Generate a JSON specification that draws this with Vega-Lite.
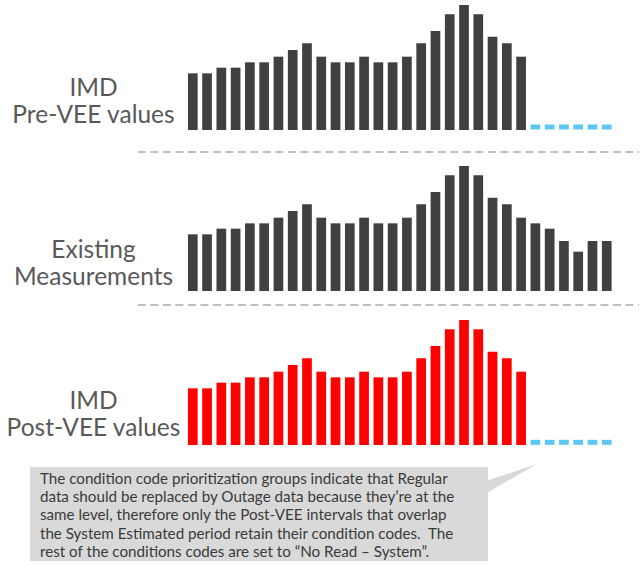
{
  "$schema": "https://vega.github.io/schema/vega-lite/v6.json",
  "padding": {"left": 0, "top": 5, "right": 0, "bottom": 0},
  "autosize": {"type": "pad"},
  "background": "white",
  "bounds": "flush",
  "spacing": 0,
  "config": {
    "view": {"stroke": null},
    "axisY": {
      "labels": false, "ticks": false, "domain": false, "grid": false,
      "titleAngle": 0, "titleAlign": "center", "titleBaseline": "alphabetic",
      "titleFont": "Lato", "titleFontSize": 24.5, "titleFontWeight": "normal",
      "titleColor": "#595959", "titleLineHeight": 27.5, "titleX": 93
    }
  },
  "datasets": {
    "pre": [
      {"slot": 1, "kwh": 17}, {"slot": 2, "kwh": 17}, {"slot": 3, "kwh": 18.7}, {"slot": 4, "kwh": 18.7},
      {"slot": 5, "kwh": 20.3}, {"slot": 6, "kwh": 20.3}, {"slot": 7, "kwh": 22}, {"slot": 8, "kwh": 24},
      {"slot": 9, "kwh": 26}, {"slot": 10, "kwh": 22}, {"slot": 11, "kwh": 20.3}, {"slot": 12, "kwh": 20.3},
      {"slot": 13, "kwh": 22}, {"slot": 14, "kwh": 20.3}, {"slot": 15, "kwh": 20.3}, {"slot": 16, "kwh": 22},
      {"slot": 17, "kwh": 26}, {"slot": 18, "kwh": 29.7}, {"slot": 19, "kwh": 34.7}, {"slot": 20, "kwh": 37.5},
      {"slot": 21, "kwh": 34.7}, {"slot": 22, "kwh": 28}, {"slot": 23, "kwh": 26}, {"slot": 24, "kwh": 22}
    ],
    "existing": [
      {"slot": 1, "kwh": 17}, {"slot": 2, "kwh": 17}, {"slot": 3, "kwh": 18.7}, {"slot": 4, "kwh": 18.7},
      {"slot": 5, "kwh": 20.3}, {"slot": 6, "kwh": 20.3}, {"slot": 7, "kwh": 22}, {"slot": 8, "kwh": 24},
      {"slot": 9, "kwh": 26}, {"slot": 10, "kwh": 22}, {"slot": 11, "kwh": 20.3}, {"slot": 12, "kwh": 20.3},
      {"slot": 13, "kwh": 22}, {"slot": 14, "kwh": 20.3}, {"slot": 15, "kwh": 20.3}, {"slot": 16, "kwh": 22},
      {"slot": 17, "kwh": 26}, {"slot": 18, "kwh": 29.7}, {"slot": 19, "kwh": 34.7}, {"slot": 20, "kwh": 37.5},
      {"slot": 21, "kwh": 34.7}, {"slot": 22, "kwh": 28}, {"slot": 23, "kwh": 26}, {"slot": 24, "kwh": 22},
      {"slot": 25, "kwh": 20.3}, {"slot": 26, "kwh": 18.7}, {"slot": 27, "kwh": 15}, {"slot": 28, "kwh": 11.8},
      {"slot": 29, "kwh": 15}, {"slot": 30, "kwh": 15}
    ],
    "post": [
      {"slot": 1, "kwh": 17}, {"slot": 2, "kwh": 17}, {"slot": 3, "kwh": 18.7}, {"slot": 4, "kwh": 18.7},
      {"slot": 5, "kwh": 20.3}, {"slot": 6, "kwh": 20.3}, {"slot": 7, "kwh": 22}, {"slot": 8, "kwh": 24},
      {"slot": 9, "kwh": 26}, {"slot": 10, "kwh": 22}, {"slot": 11, "kwh": 20.3}, {"slot": 12, "kwh": 20.3},
      {"slot": 13, "kwh": 22}, {"slot": 14, "kwh": 20.3}, {"slot": 15, "kwh": 20.3}, {"slot": 16, "kwh": 22},
      {"slot": 17, "kwh": 26}, {"slot": 18, "kwh": 29.7}, {"slot": 19, "kwh": 34.7}, {"slot": 20, "kwh": 37.5},
      {"slot": 21, "kwh": 34.7}, {"slot": 22, "kwh": 28}, {"slot": 23, "kwh": 26}, {"slot": 24, "kwh": 22}
    ],
    "gap": [
      {"slot": 25}, {"slot": 26}, {"slot": 27}, {"slot": 28}, {"slot": 29}, {"slot": 30}
    ],
    "note": [
      {"note": "The condition code prioritization groups indicate that Regular\ndata should be replaced by Outage data because they’re at the\nsame level, therefore only the Post-VEE intervals that overlap\nthe System Estimated period retain their condition codes.\u00a0 The\nrest of the conditions codes are set to “No Read – System”."}
    ]
  },
  "resolve": {"scale": {"x": "independent", "y": "independent"}},
  "vconcat": [
    {
      "width": 644,
      "height": 161,
      "layer": [
        {
          "data": {"name": "pre"},
          "mark": {"type": "bar", "orient": "vertical", "width": 9.7, "color": "#404040"},
          "encoding": {
            "x": {"field": "slot", "type": "quantitative", "scale": {"domain": [-12.155, 32.259], "nice": false, "zero": false}, "axis": null},
            "y": {"field": "kwh", "type": "quantitative", "scale": {"domain": [-10.8, 37.5], "nice": false, "zero": false},
                  "axis": {"title": ["IMD", "Pre-VEE values"], "titleY": 90}}
          }
        },
        {
          "data": {"name": "gap"},
          "mark": {"type": "tick", "orient": "horizontal", "size": 9.7, "thickness": 5, "color": "#17aeef"},
          "encoding": {
            "x": {"field": "slot", "type": "quantitative"},
            "y": {"datum": 0.9, "type": "quantitative"}
          }
        },
        {
          "data": {"values": [{}]},
          "mark": {"type": "rule", "color": "#bfbfbf", "strokeWidth": 2, "strokeDash": [8, 4.5]},
          "encoding": {
            "x": {"datum": -2.845, "type": "quantitative"},
            "x2": {"datum": 32.259},
            "y": {"datum": -6.6, "type": "quantitative"}
          }
        }
      ]
    },
    {
      "width": 644,
      "height": 154,
      "layer": [
        {
          "data": {"name": "existing"},
          "mark": {"type": "bar", "orient": "vertical", "width": 9.7, "color": "#404040"},
          "encoding": {
            "x": {"field": "slot", "type": "quantitative", "scale": {"domain": [-12.155, 32.259], "nice": false, "zero": false}, "axis": null},
            "y": {"field": "kwh", "type": "quantitative", "scale": {"domain": [-8.7, 37.5], "nice": false, "zero": false},
                  "axis": {"title": ["Existing", "Measurements"], "titleY": 91.3}}
          }
        },
        {
          "data": {"values": [{}]},
          "mark": {"type": "rule", "color": "#bfbfbf", "strokeWidth": 2, "strokeDash": [8, 4.5]},
          "encoding": {
            "x": {"datum": -2.845, "type": "quantitative"},
            "x2": {"datum": 32.259},
            "y": {"datum": -4.2, "type": "quantitative"}
          }
        }
      ]
    },
    {
      "width": 644,
      "height": 141,
      "layer": [
        {
          "data": {"name": "post"},
          "mark": {"type": "bar", "orient": "vertical", "width": 9.7, "color": "#ff0000"},
          "encoding": {
            "x": {"field": "slot", "type": "quantitative", "scale": {"domain": [-12.155, 32.259], "nice": false, "zero": false}, "axis": null},
            "y": {"field": "kwh", "type": "quantitative", "scale": {"domain": [-4.8, 37.5], "nice": false, "zero": false},
                  "axis": {"title": ["IMD", "Post-VEE values"], "titleY": 88.3}}
          }
        },
        {
          "data": {"name": "gap"},
          "mark": {"type": "tick", "orient": "horizontal", "size": 9.7, "thickness": 5, "color": "#17aeef"},
          "encoding": {
            "x": {"field": "slot", "type": "quantitative"},
            "y": {"datum": 0.8, "type": "quantitative"}
          }
        }
      ]
    },
    {
      "width": 644,
      "height": 100,
      "layer": [
        {
          "data": {"values": [{}]},
          "mark": {"type": "rect", "color": "#d9d9d9"},
          "encoding": {
            "x": {"datum": -10.09, "type": "quantitative", "scale": {"domain": [-12.155, 32.259], "nice": false, "zero": false}, "axis": null},
            "x2": {"datum": 21.5},
            "y": {"datum": 0, "type": "quantitative", "scale": {"domain": [0, 100], "nice": false, "zero": false}, "axis": null},
            "y2": {"datum": 94}
          }
        },
        {
          "data": {"values": [{}]},
          "mark": {"type": "point", "shape": "M-0.95,0.083L-0.95,0.55L0.95,-0.55Z", "size": 3600, "filled": true, "color": "#d9d9d9", "opacity": 1, "strokeWidth": 0},
          "encoding": {
            "x": {"datum": 22.91, "type": "quantitative"},
            "y": {"datum": 80.5, "type": "quantitative"}
          }
        },
        {
          "data": {"name": "note"},
          "mark": {"type": "text", "align": "left", "baseline": "alphabetic", "lineBreak": "\n", "lineHeight": 18.1, "font": "Lato", "fontSize": 15.2, "color": "#3a3a3a"},
          "encoding": {
            "x": {"datum": -9.4, "type": "quantitative"},
            "y": {"datum": 76.7, "type": "quantitative"},
            "text": {"field": "note"}
          }
        }
      ]
    }
  ]
}
